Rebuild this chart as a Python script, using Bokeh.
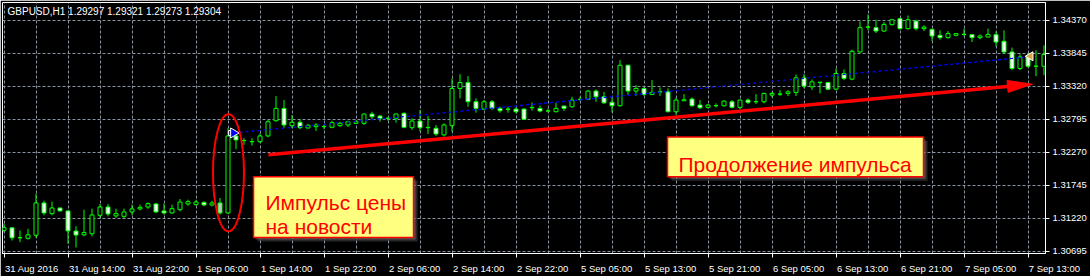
import numpy as np
from bokeh.plotting import figure
from bokeh.models import FixedTicker, Range1d, Label, AllLabels
from bokeh.embed import file_html
from bokeh.resources import INLINE

# ---------------- data (GBPUSD H1) ----------------
opens = [1.31032, 1.31071, 1.30912, 1.30906, 1.30953, 1.31467, 1.31297, 1.31387, 1.31340, 1.31020,
         1.30960, 1.30976, 1.31270, 1.31403, 1.31261, 1.31254, 1.31324, 1.31372, 1.31403, 1.31451,
         1.31340, 1.31308, 1.31360, 1.31451, 1.31440, 1.31476, 1.31435, 1.31467, 1.31308, 1.32533,
         1.32458, 1.32440, 1.32442, 1.32533, 1.32775, 1.32971, 1.32696, 1.32750, 1.32659, 1.32680,
         1.32680, 1.32670, 1.32696, 1.32707, 1.32734, 1.32734, 1.32881, 1.32849, 1.32810, 1.32813,
         1.32892, 1.32664, 1.32770, 1.32664, 1.32655, 1.32549, 1.32696, 1.33288, 1.33383, 1.33076,
         1.32960, 1.33076, 1.32971, 1.32960, 1.32960, 1.32960, 1.32981, 1.32971, 1.32931, 1.32918,
         1.33008, 1.32997, 1.33112, 1.33114, 1.33246, 1.33155, 1.33067, 1.33013, 1.33657, 1.33246,
         1.33288, 1.33193, 1.33232, 1.33234, 1.32918, 1.33092, 1.33119, 1.33024, 1.32987, 1.33013,
         1.33013, 1.33076, 1.32987, 1.33103, 1.33076, 1.33076, 1.33182, 1.33196, 1.33209, 1.33225,
         1.33456, 1.33314, 1.33380, 1.33383, 1.33277, 1.33526, 1.33436, 1.33868, 1.34262, 1.34255,
         1.34201, 1.34302, 1.34397, 1.34239, 1.34359, 1.34239, 1.34228, 1.34133, 1.34096, 1.34133,
         1.34146, 1.34144, 1.34096, 1.34106, 1.34144, 1.34038, 1.33868, 1.33605, 1.33789, 1.33640,
         1.33642]
highs = [1.31139, 1.31080, 1.31028, 1.31055, 1.31614, 1.31503, 1.31487, 1.31392, 1.31345, 1.31096,
         1.31360, 1.31376, 1.31451, 1.31451, 1.31376, 1.31376, 1.31440, 1.31440, 1.31476, 1.31467,
         1.31455, 1.31440, 1.31530, 1.31519, 1.31519, 1.31492, 1.31503, 1.31546, 1.32655, 1.32564,
         1.32496, 1.32496, 1.32575, 1.32786, 1.33166, 1.33103, 1.32865, 1.32797, 1.32723, 1.32734,
         1.32723, 1.32775, 1.32759, 1.32775, 1.32786, 1.32892, 1.32918, 1.32865, 1.32838, 1.32892,
         1.32908, 1.32813, 1.32945, 1.32849, 1.32707, 1.32734, 1.33447, 1.33515, 1.33483, 1.33130,
         1.33103, 1.33103, 1.32997, 1.32997, 1.32987, 1.32971, 1.33067, 1.33013, 1.32971, 1.33060,
         1.33013, 1.33155, 1.33155, 1.33261, 1.33272, 1.33234, 1.33146, 1.33737, 1.33665, 1.33341,
         1.33304, 1.33420, 1.33304, 1.33288, 1.33139, 1.33198, 1.33146, 1.33103, 1.33040, 1.33051,
         1.33103, 1.33103, 1.33114, 1.33130, 1.33198, 1.33219, 1.33234, 1.33261, 1.33261, 1.33510,
         1.33515, 1.33431, 1.33393, 1.33393, 1.33605, 1.33589, 1.33906, 1.34354, 1.34465, 1.34381,
         1.34343, 1.34386, 1.34413, 1.34449, 1.34381, 1.34291, 1.34239, 1.34212, 1.34201, 1.34164,
         1.34239, 1.34148, 1.34144, 1.34239, 1.34196, 1.34212, 1.33938, 1.33832, 1.33852, 1.33895,
         1.33974]
lows = [1.31001, 1.30869, 1.30842, 1.30885, 1.30912, 1.31270, 1.31270, 1.31329, 1.30817, 1.30758,
        1.30937, 1.30937, 1.31229, 1.31254, 1.31229, 1.31229, 1.31270, 1.31349, 1.31372, 1.31308,
        1.31281, 1.31292, 1.31334, 1.31424, 1.31424, 1.31413, 1.31413, 1.31281, 1.31292, 1.32322,
        1.32390, 1.32379, 1.32417, 1.32512, 1.32759, 1.32655, 1.32655, 1.32639, 1.32655, 1.32612,
        1.32639, 1.32655, 1.32680, 1.32675, 1.32723, 1.32707, 1.32797, 1.32759, 1.32775, 1.32743,
        1.32655, 1.32628, 1.32601, 1.32564, 1.32533, 1.32522, 1.32601, 1.33130, 1.32997, 1.32902,
        1.32945, 1.32945, 1.32902, 1.32902, 1.32892, 1.32786, 1.32933, 1.32908, 1.32908, 1.32908,
        1.32929, 1.32981, 1.33092, 1.33103, 1.33076, 1.33040, 1.32908, 1.32997, 1.33182, 1.33171,
        1.33171, 1.33182, 1.33171, 1.32908, 1.32865, 1.33087, 1.32997, 1.32960, 1.32971, 1.32987,
        1.32997, 1.32971, 1.32956, 1.33040, 1.33040, 1.33051, 1.33146, 1.33166, 1.33166, 1.33166,
        1.33288, 1.33261, 1.33209, 1.33261, 1.33261, 1.33420, 1.33420, 1.33859, 1.34212, 1.34169,
        1.34185, 1.34291, 1.34223, 1.34223, 1.34212, 1.34201, 1.34042, 1.34064, 1.34080, 1.34117,
        1.34117, 1.34026, 1.34069, 1.34101, 1.33958, 1.33843, 1.33578, 1.33578, 1.33621, 1.33483,
        1.33499]
closes = [1.31075, 1.30912, 1.30917, 1.30960, 1.31467, 1.31308, 1.31387, 1.31340, 1.31023, 1.30956,
          1.30996, 1.31276, 1.31403, 1.31292, 1.31297, 1.31324, 1.31372, 1.31397, 1.31455, 1.31324,
          1.31308, 1.31376, 1.31482, 1.31487, 1.31482, 1.31435, 1.31467, 1.31308, 1.32533, 1.32469,
          1.32461, 1.32444, 1.32533, 1.32759, 1.32971, 1.32707, 1.32750, 1.32664, 1.32702, 1.32707,
          1.32684, 1.32743, 1.32734, 1.32759, 1.32759, 1.32881, 1.32838, 1.32813, 1.32815, 1.32881,
          1.32670, 1.32770, 1.32664, 1.32670, 1.32564, 1.32707, 1.33288, 1.33383, 1.33076, 1.32971,
          1.33076, 1.32971, 1.32933, 1.32957, 1.32918, 1.32797, 1.32987, 1.32929, 1.32929, 1.32971,
          1.32971, 1.33103, 1.33114, 1.33246, 1.33155, 1.33060, 1.33013, 1.33657, 1.33246, 1.33288,
          1.33193, 1.33225, 1.33236, 1.32918, 1.33103, 1.33108, 1.33013, 1.32981, 1.33024, 1.33015,
          1.33087, 1.32987, 1.33103, 1.33067, 1.33078, 1.33209, 1.33209, 1.33200, 1.33234, 1.33456,
          1.33325, 1.33393, 1.33388, 1.33277, 1.33526, 1.33447, 1.33879, 1.34255, 1.34266, 1.34201,
          1.34307, 1.34381, 1.34239, 1.34381, 1.34239, 1.34264, 1.34122, 1.34096, 1.34160, 1.34160,
          1.34150, 1.34096, 1.34122, 1.34148, 1.34026, 1.33868, 1.33605, 1.33789, 1.33642, 1.33644,
          1.33827]
highlighted_bar = 27  # candle drawn grey in the picture

time_labels = ["31 Aug 2016", "31 Aug 14:00", "31 Aug 22:00", "1 Sep 06:00", "1 Sep 14:00",
               "1 Sep 22:00", "2 Sep 06:00", "2 Sep 14:00", "2 Sep 22:00", "5 Sep 05:00",
               "5 Sep 13:00", "5 Sep 21:00", "6 Sep 05:00", "6 Sep 13:00", "6 Sep 21:00",
               "7 Sep 05:00", "7 Sep 13:00"]
price_ticks = [1.30695, 1.31220, 1.31745, 1.32270, 1.32795, 1.33320, 1.33845, 1.34370]
header_text = "GBPUSD,H1  1.29297 1.29321 1.29273 1.29304"

# annotations (bar index, price)
trade_open = (28.69, 1.32580)
trade_close = (127.56, 1.33784)
close_marker = (128.3, 1.33800)
ellipse_center = (28.06, 1.31947)
arrow_start = (33.06, 1.32232)
arrow_tip = (128.56, 1.33356)
box1 = dict(left=31.19, right=51.19, top=1.31883, bottom=1.30917)
box2 = dict(left=82.94, right=114.94, top=1.32517, bottom=1.31883)
box1_lines = [("Импульс цены", 32.69, 1.31467), ("на новости", 32.69, 1.31096)]
box2_text = ("Продолжение импульса", 84.31, 1.32081)

# ---------------- layout ----------------
W, H = 1090, 276
FL, FT, FR, FB = 2, 2, 1045, 254          # frame edges in canvas pixels
PX_PER_BAR = 8.0
X0 = -1.5 / PX_PER_BAR
X1 = X0 + (FR - FL) / PX_PER_BAR
Y1 = 1.34655
Y0 = 1.30663
PX_PER_PRICE = (FB - FT) / (Y1 - Y0)

GREEN = "#00FF00"
GRID = "#8894a3"
FONT = "Liberation Sans"
FS_PX = 9.5
FS = f"{FS_PX}px"
NBSP = "\u00a0"

p = figure(width=W, height=H, x_range=Range1d(X0, X1), y_range=Range1d(Y0, Y1),
           output_backend="svg", toolbar_location=None, y_axis_location="right",
           min_border_left=FL, min_border_top=FT, min_border_right=W - FR,
           min_border_bottom=H - FB, background_fill_color="black",
           border_fill_color="black", outline_line_color="white", outline_line_width=1)

# --- x axis: labels left-aligned at their tick like MT4 ---
CW = {" ": 0.278, ":": 0.278, "A": 0.667, "S": 0.667, NBSP: 0.278}
def text_w(s, px=FS_PX):
    return sum(CW.get(ch, 0.556) for ch in s) * px

tick_pos = list(range(0, len(opens), 8))[:len(time_labels)]
major, overrides = [], {}
for t, lbl in zip(tick_pos, time_labels):
    cx = t + (1.0 + text_w(lbl) / 2) / PX_PER_BAR
    if cx < X1:
        major.append(cx); overrides[cx] = lbl
    else:
        # centre on the tick itself and pad on the left so the text starts at the tick
        n = int(round((text_w(lbl) + 2.0) / (0.278 * FS_PX)))
        major.append(float(t)); overrides[float(t)] = NBSP * n + lbl
xax = p.xaxis[0]
xax.ticker = FixedTicker(ticks=major, minor_ticks=tick_pos)
xax.major_label_overrides = overrides
xax.major_label_policy = AllLabels()
xax.major_tick_out = 0
xax.major_tick_in = 0
xax.minor_tick_out = 4
xax.minor_tick_in = 0
xax.minor_tick_line_color = "white"
xax.axis_line_color = "white"
xax.major_label_text_color = "white"
xax.major_label_text_font = FONT
xax.major_label_text_font_size = FS
xax.major_label_standoff = 5

yax = p.yaxis[0]
yax.ticker = FixedTicker(ticks=price_ticks)
yax.major_label_overrides = {v: f"{v:.5f}" for v in price_ticks}
yax.minor_tick_out = 0
yax.minor_tick_in = 0
yax.major_tick_in = 0
yax.major_tick_out = 4
yax.major_tick_line_color = "white"
yax.axis_line_color = "white"
yax.major_label_text_color = "white"
yax.major_label_text_font = FONT
yax.major_label_text_font_size = FS
yax.major_label_standoff = 3

p.xgrid.ticker = FixedTicker(ticks=list(range(0, len(opens), 4)))
p.ygrid.ticker = FixedTicker(ticks=price_ticks)
for g in (p.xgrid, p.ygrid):
    g.grid_line_color = GRID
    g.grid_line_dash = "3 2"
    g.grid_line_width = 1

# ---------------- candles ----------------
idx = np.arange(len(opens))
o = np.array(opens); c = np.array(closes)
fills = ["black" if cc > oo else "white" for oo, cc in zip(opens, closes)]
fills[highlighted_bar] = "#c4c4c4"
p.segment(x0=idx, y0=lows, x1=idx, y1=highs, line_color=GREEN, line_width=1)
p.vbar(x=idx, width=0.5, top=np.maximum(o, c), bottom=np.minimum(o, c),
       fill_color=fills, line_color=GREEN, line_width=1)

# ---------------- trade line & markers ----------------
p.line(x=[trade_open[0], trade_close[0]], y=[trade_open[1], trade_close[1]],
       line_color="#0000FF", line_width=1.3, line_dash="3 3")
p.scatter(x=[trade_open[0] - 0.3], y=[trade_open[1]], marker="square", size=5,
          fill_color="#0000FF", line_color="white", line_width=1)
p.scatter(x=[trade_open[0]], y=[trade_open[1]], marker="triangle", angle=-np.pi / 2,
          size=10, fill_color="#0000FF", line_color="white", line_width=1)
p.scatter(x=[close_marker[0]], y=[close_marker[1]], marker="triangle", angle=np.pi / 2,
          size=9, fill_color="#D9A441", line_color="white", line_width=1)

# ---------------- red arrow ----------------
dx = (arrow_tip[0] - arrow_start[0]) * PX_PER_BAR
dy = (arrow_tip[1] - arrow_start[1]) * PX_PER_PRICE
L = np.hypot(dx, dy); ux, uy = dx / L, dy / L
head_len, head_half = 25.0, 6.0
bx = arrow_tip[0] - head_len * ux / PX_PER_BAR
by = arrow_tip[1] - head_len * uy / PX_PER_PRICE
nx, ny = -uy, ux
p.line(x=[arrow_start[0], bx + 2 * ux / PX_PER_BAR], y=[arrow_start[1], by + 2 * uy / PX_PER_PRICE],
       line_color="#FF0000", line_width=3.5)
p.patch(x=[bx + head_half * nx / PX_PER_BAR, arrow_tip[0], bx - head_half * nx / PX_PER_BAR],
        y=[by + head_half * ny / PX_PER_PRICE, arrow_tip[1], by - head_half * ny / PX_PER_PRICE],
        fill_color="#FF0000", line_color="#FF0000", line_width=1)

# ---------------- ellipse ----------------
p.ellipse(x=[ellipse_center[0]], y=[ellipse_center[1]], width=31, height=117,
          width_units="screen", height_units="screen", fill_color=None,
          line_color="#FF0000", line_width=2)

# ---------------- text boxes ----------------
for b in (box1, box2):
    for k, a in ((2, 0.35), (4, 0.25)):
        p.quad(left=[b["left"] + k / PX_PER_BAR], right=[b["right"] + k / PX_PER_BAR],
               top=[b["top"] - k / PX_PER_PRICE], bottom=[b["bottom"] - k / PX_PER_PRICE],
               fill_color="#9a9a9a", fill_alpha=a, line_color=None)
    p.quad(left=[b["left"]], right=[b["right"]], top=[b["top"]], bottom=[b["bottom"]],
           fill_color="#FFFF80", line_color="#FF0000", line_width=1.5)

for txt, x, y in box1_lines + [box2_text]:
    p.add_layout(Label(x=x, y=y, text=txt, text_color="#FF0000", text_font=FONT,
                       text_font_size="21px", text_baseline="alphabetic", text_align="left"))

p.add_layout(Label(x=0.44, y=1.34513, text=header_text, text_color="white", text_font=FONT,
                   text_font_size="10px", text_baseline="middle", text_align="left"))

open("out.html", "w").write(file_html(p, INLINE))
